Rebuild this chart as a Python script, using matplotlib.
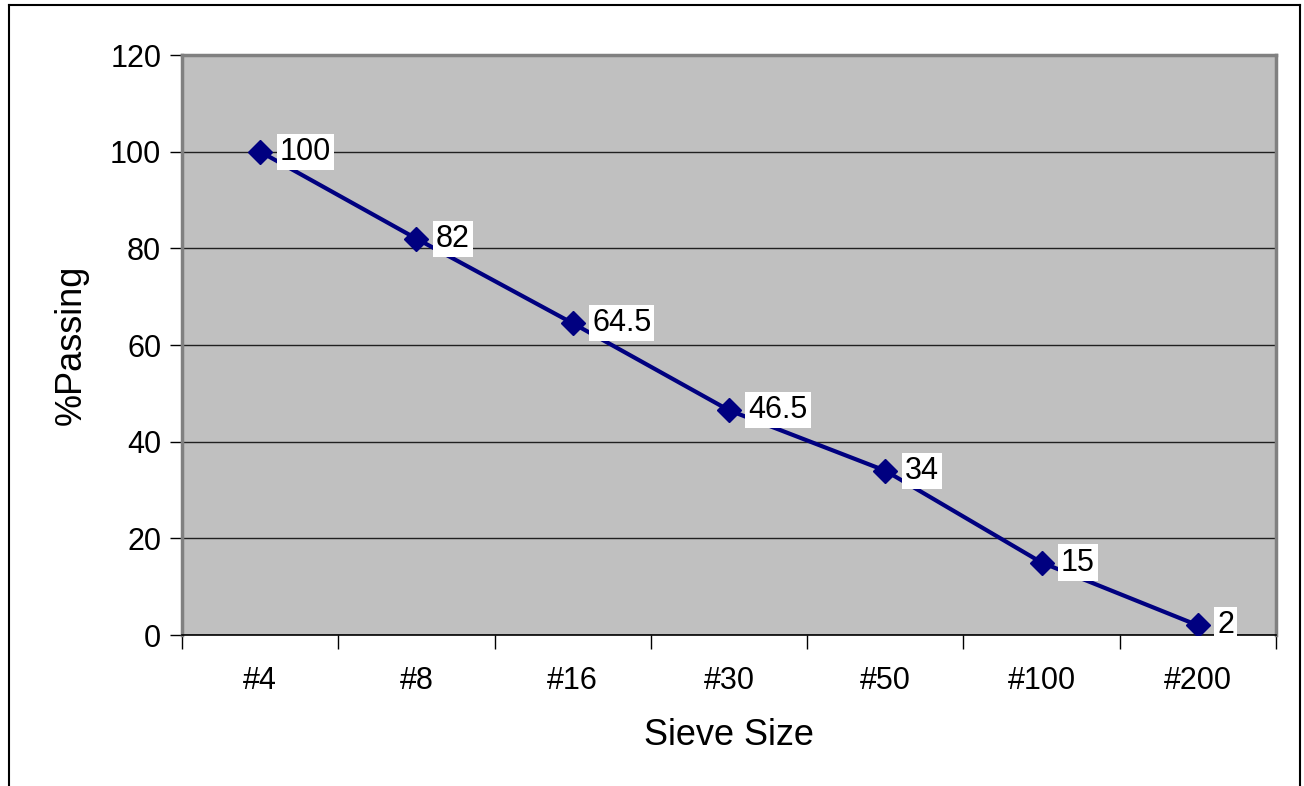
import numpy as np
import matplotlib.pyplot as plt
from matplotlib.lines import Line2D

plt.rcParams["font.family"] = ["Liberation Sans", "DejaVu Sans"]

# sieve analysis data
sieves = ["#4", "#8", "#16", "#30", "#50", "#100", "#200"]
passing = [100, 82, 64.5, 46.5, 34, 15, 2]
y_ticks = [0, 20, 40, 60, 80, 100, 120]

fig = plt.figure(figsize=(13.04, 7.86), dpi=100)
ax = fig.add_axes([0.1396, 0.1921, 0.8389, 0.7379])
ax.set_facecolor("#c0c0c0")

x = np.arange(len(sieves))
ax.plot(x, passing, color="#000080", lw=3, marker="D", ms=12.5,
        markerfacecolor="#000080", markeredgecolor="#000080", zorder=3)

for xi, yi in zip(x, passing):
    ax.annotate(f"{yi:g}", (xi, yi), xytext=(14, 0), textcoords="offset points",
                ha="left", va="center", fontsize=22,
                bbox=dict(boxstyle="square,pad=0.1", fc="white", ec="none"),
                zorder=4)

ax.set_xlim(-0.5, len(sieves) - 0.5)
ax.set_ylim(0, 120)
ax.set_yticks(y_ticks)
ax.yaxis.grid(True, color="#202020", lw=1)
ax.set_axisbelow(True)

# category boundaries get tick marks, names sit between them
ax.set_xticks(np.arange(-0.5, len(sieves), 1.0))
ax.set_xticklabels([])
ax.set_xticks(x, minor=True)
ax.set_xticklabels(sieves, minor=True)
ax.tick_params(axis="x", which="major", length=10, width=1, color="black", direction="out")
ax.tick_params(axis="x", which="minor", length=0, pad=22, labelsize=22)
ax.tick_params(axis="y", length=9, width=1, color="black", pad=6, labelsize=22)

for side in ["top", "left", "right"]:
    ax.spines[side].set_color("#808080")
    ax.spines[side].set_linewidth(2.5)
ax.spines["bottom"].set_color("black")
ax.spines["bottom"].set_linewidth(1.2)

ax.set_xlabel("Sieve Size", fontsize=26, labelpad=16)
ax.set_ylabel("%Passing", fontsize=26, labelpad=15)

# outer chart frame (open at the bottom)
fx0, fx1, fy1 = 9 / 1304, 1300 / 1304, 1 - 5 / 786
for xs, ys in [([fx0, fx0], [0, fy1]), ([fx0, fx1], [fy1, fy1]), ([fx1, fx1], [fy1, 0])]:
    fig.add_artist(Line2D(xs, ys, color="black", lw=1.5, transform=fig.transFigure))

fig.savefig("out.png", dpi=100)
